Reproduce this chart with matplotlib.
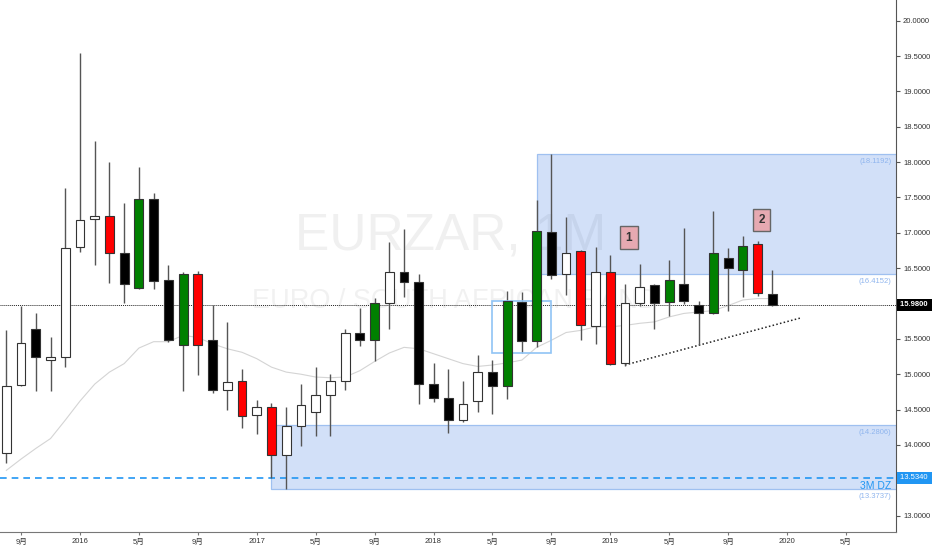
import numpy as np
import pandas as pd
import matplotlib
matplotlib.use("Agg")
import matplotlib.pyplot as plt
import matplotlib.transforms as mtransforms
from matplotlib.patches import Rectangle

plt.rcParams['font.family'] = ['Liberation Sans', 'Noto Sans CJK JP', 'DejaVu Sans']

# EURZAR monthly candles, Aug 2015 .. Dec 2019
first_month = '2015-08'
opens = [13.88, 14.85, 15.64, 15.20, 15.25, 16.80, 17.19, 17.24, 16.72, 16.22,
         17.48, 16.33, 15.42, 16.42, 15.49, 14.78, 14.91, 14.43, 14.53, 13.86,
         14.27, 14.46, 14.71, 14.91, 15.58, 15.49, 16.01, 16.44, 16.30, 14.86,
         14.67, 14.35, 14.62, 15.03, 14.83, 16.02, 15.47, 17.01, 16.42, 16.74,
         15.68, 16.44, 15.16, 16.01, 16.26, 16.02, 16.27, 15.98, 15.87, 16.65,
         16.48, 16.84, 16.13]
highs = [15.62, 15.97, 15.86, 15.53, 17.63, 19.54, 18.30, 18.00, 17.42, 17.93,
         17.56, 16.55, 16.45, 16.46, 15.98, 15.74, 15.08, 14.63, 14.59, 14.54,
         14.86, 15.10, 15.00, 15.64, 15.93, 16.08, 16.87, 17.06, 16.42, 15.16,
         15.07, 14.90, 15.27, 15.20, 16.18, 16.16, 17.47, 18.12, 17.22, 16.75,
         16.80, 16.69, 16.27, 16.56, 16.27, 16.62, 17.07, 16.04, 17.31, 16.78,
         16.95, 16.89, 16.48]
lows = [13.74, 14.83, 14.76, 14.76, 15.10, 16.73, 16.55, 16.29, 16.01, 16.20,
        16.21, 15.45, 14.76, 14.99, 14.74, 14.50, 14.24, 14.16, 13.53, 13.37,
        13.98, 14.12, 14.12, 14.78, 15.40, 15.18, 15.64, 16.09, 14.58, 14.61,
        14.17, 14.33, 14.46, 14.44, 14.65, 15.30, 15.38, 16.35, 16.12, 15.48,
        15.43, 15.13, 15.12, 15.97, 15.64, 15.82, 16.00, 15.42, 15.85, 15.90,
        16.09, 16.10, 15.97]
closes = [14.84, 15.44, 15.24, 15.25, 16.78, 17.18, 17.24, 16.72, 16.27, 17.48,
          16.32, 15.49, 16.42, 15.42, 14.78, 14.89, 14.41, 14.53, 13.86, 14.27,
          14.57, 14.70, 14.90, 15.58, 15.49, 16.01, 16.44, 16.30, 14.86, 14.67,
          14.35, 14.58, 15.03, 14.83, 16.03, 15.47, 17.02, 16.41, 16.71, 15.69,
          16.44, 15.14, 16.01, 16.24, 16.01, 16.33, 16.03, 15.86, 16.71, 16.50,
          16.82, 16.15, 15.98]
# candle paint: w = hollow, k = black, g = green, r = red
paint = ['w', 'w', 'k', 'w', 'w', 'w', 'w', 'r', 'k', 'g',
         'k', 'k', 'g', 'r', 'k', 'w', 'r', 'w', 'r', 'w',
         'w', 'w', 'w', 'w', 'k', 'g', 'w', 'k', 'k', 'k',
         'k', 'w', 'w', 'k', 'g', 'k', 'g', 'k', 'w', 'r',
         'w', 'r', 'w', 'w', 'k', 'g', 'k', 'k', 'g', 'k',
         'g', 'r', 'k']
ma = [13.64, 13.80, 13.95, 14.09, 14.35, 14.62, 14.86, 15.03, 15.15, 15.37,
      15.46, 15.46, 15.55, 15.52, 15.43, 15.36, 15.31, 15.22, 15.10, 15.03,
      15.00, 14.96, 14.95, 14.96, 15.05, 15.18, 15.30, 15.38, 15.36, 15.29,
      15.22, 15.15, 15.11, 15.13, 15.16, 15.20, 15.38, 15.48, 15.59, 15.62,
      15.67, 15.67, 15.69, 15.72, 15.74, 15.81, 15.86, 15.88, 15.90, 15.97,
      16.05, 16.07, 16.07]

# zones and drawings
supply_zone = ('2018-08', 16.4152, 18.1192)
demand_zone = ('2017-02', 13.3737, 14.2806)
small_box = ('2018-05', '2018-09', 15.30, 16.04)
trend_pts = [('2019-02', 15.13), ('2020-02', 15.80)]
dz_level = 13.5340
last_price = 15.9800
marks = [('1', '2019-02', 16.93), ('2', '2019-11', 17.18)]

months = pd.period_range(first_month, '2020-06', freq='M')
pos = {str(p): i for i, p in enumerate(months)}
x = np.arange(len(opens))

face = {'w': 'white', 'k': 'black', 'g': '#008000', 'r': '#ff0000'}

fig = plt.figure(figsize=(9.32, 5.5), dpi=100)
ax = fig.add_axes([0, 0.0336, 0.9614, 0.9664])
ax.set_xlim(-0.43, 60.4)
ax.set_ylim(12.775, 20.293)

# watermark
ax.text(0.503, 0.556, 'EURZAR, 1M', transform=ax.transAxes, fontsize=37,
        color='#f0f0f0', ha='center', va='center', zorder=0)
ax.text(0.508, 0.434, 'EURO / SOUTH AFRICAN RAND', transform=ax.transAxes, fontsize=19.5,
        color='#f1f1f1', ha='center', va='center', zorder=0)

# zones
zcol = (0.13, 0.40, 0.88, 0.2)
for start, lo, hi in [supply_zone, demand_zone]:
    x0 = pos[start]
    ax.add_patch(Rectangle((x0, lo), 70, hi - lo, facecolor=zcol,
                           edgecolor='#9fc0f0', lw=0.9, zorder=1))

bx = small_box
ax.add_patch(Rectangle((pos[bx[0]], bx[2]), pos[bx[1]] - pos[bx[0]], bx[3] - bx[2],
                       facecolor='none', edgecolor='#90c4f5', lw=1.2, zorder=4))

# moving average
ax.plot(x, ma, color='#d4d4d4', lw=0.8, zorder=2)

# horizontal levels
ax.axhline(dz_level, color='#2196f3', lw=1.2, ls=(0, (4, 3)), zorder=2)
ax.axhline(last_price, color='#222222', lw=0.7, ls=(0, (1, 1)), zorder=2)

# trendline
tx = [pos[m] for m, _ in trend_pts]
ty = [v for _, v in trend_pts]
ax.plot(tx, ty, color='#222222', lw=1.1, ls=(0, (1, 1.5)), zorder=3)

# candles
o = np.array(opens); c = np.array(closes)
ax.vlines(x, lows, highs, color='#555555', lw=1, zorder=3)
bottom = np.minimum(o, c)
height = np.maximum(np.abs(c - o), 0.03)
ax.bar(x, height, bottom=bottom, width=0.6, color=[face[p] for p in paint],
       edgecolor='#333333', linewidth=0.8, zorder=4)

# numbered marks
for txt, m, v in marks:
    ax.text(pos[m] + 0.27, v, txt, fontsize=8.5, fontweight='bold', color='#333333',
            ha='center', va='center', zorder=6,
            bbox=dict(boxstyle='square,pad=0.45', facecolor='#e6a9b1', edgecolor='#666666', lw=1))

# zone price notes
note_col = '#8fb5ee'
for val in [supply_zone[2], supply_zone[1], demand_zone[2], demand_zone[1]]:
    ax.annotate('(%.4f)' % val, xy=(0.995, val), xycoords=('axes fraction', 'data'),
                xytext=(0, -3), textcoords='offset points', fontsize=5.5,
                color=note_col, ha='right', va='top', zorder=6)
ax.annotate('3M DZ', xy=(0.995, dz_level), xycoords=('axes fraction', 'data'),
            xytext=(0, -2), textcoords='offset points', fontsize=7.5,
            color='#2196f3', ha='right', va='top', zorder=6)

# axes styling
for s in ['top', 'left']:
    ax.spines[s].set_visible(False)
ax.spines['right'].set_color('#555555')
ax.spines['bottom'].set_color('#777777')
ax.yaxis.tick_right()
yt = np.arange(13.0, 20.01, 0.5)
ax.set_yticks(yt)
# 13.5 and 16.0 sit under the price boxes
ax.set_yticklabels(['' if abs(v - 13.5) < 0.01 or abs(v - 16.0) < 0.01 else '%.4f' % v for v in yt])
ax.tick_params(axis='y', length=3, width=0.8, color='#555555', labelsize=5.5,
               labelcolor='#333333', pad=2)

tick_pos = [i for i, p in enumerate(months) if p.month in (1, 5, 9)]
tick_lab = [str(months[i].year) if months[i].month == 1 else '%d月' % months[i].month
            for i in tick_pos]
ax.set_xticks(tick_pos)
ax.set_xticklabels(tick_lab)
ax.tick_params(axis='x', length=2, width=0.8, color='#777777', labelsize=5.5,
               labelcolor='#333333', pad=3)

# price labels on the axis
trans = mtransforms.blended_transform_factory(ax.transAxes, ax.transData)
ax.text(1.004, last_price, '15.9800 ', transform=trans, fontsize=5.5, color='white',
        fontweight='bold', ha='left', va='center', clip_on=False, zorder=7,
        bbox=dict(boxstyle='square,pad=0.35', facecolor='black', edgecolor='none'))
ax.text(1.004, dz_level, '13.5340 ', transform=trans, fontsize=5.5, color='white',
        ha='left', va='center', clip_on=False, zorder=7,
        bbox=dict(boxstyle='square,pad=0.35', facecolor='#2196f3', edgecolor='none'))

fig.savefig('out.png', dpi=100)
